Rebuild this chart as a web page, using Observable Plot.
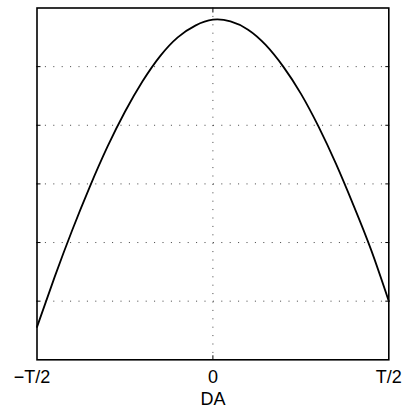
<!DOCTYPE html>
<html>
<head>
<meta charset="utf-8">
<script src="https://cdn.jsdelivr.net/npm/d3@7"></script>
<script src="https://cdn.jsdelivr.net/npm/@observablehq/plot@0.6"></script>
<style>
  html, body { margin: 0; padding: 0; background: #fff; }
</style>
</head>
<body>
<div id="chart"></div>
<script>
// Response over one period, phase in units of T
const phase = [-0.5, -0.45, -0.4, -0.35, -0.3, -0.25, -0.2, -0.15, -0.1, -0.05, 0,
               0.05, 0.1, 0.15, 0.2, 0.25, 0.3, 0.35, 0.4, 0.45, 0.5];
const level = [0.56, 1.41, 2.21, 2.95, 3.63, 4.23, 4.75, 5.18, 5.50, 5.70, 5.80,
               5.77, 5.63, 5.37, 5.00, 4.54, 3.98, 3.34, 2.63, 1.87, 1.00];

const xTicks = [-0.5, 0, 0.5];
const xTickLabels = ["\u2212T/2", "0", "T/2"];
const yTicks = [1, 2, 3, 4, 5];
const xLabel = "DA";

const points = phase.map((p, i) => ({phase: p, level: level[i]}));
const fmt = d => xTickLabels[xTicks.indexOf(d)];

const labelStyle = {anchor: "bottom", tickSize: 0, tickPadding: 10, tickFormat: fmt, fontSize: 18};

const chart = Plot.plot({
  width: 406,
  height: 414,
  marginLeft: 36.5,
  marginRight: 17.7,
  marginTop: 7.5,
  marginBottom: 54.7,
  style: {fontFamily: "'Liberation Sans', Arial, sans-serif", fontSize: "18px", background: "#fff", color: "#000"},
  x: {domain: [-0.5, 0.5]},
  y: {domain: [0, 6]},
  marks: [
    Plot.gridY(yTicks, {stroke: "#000", strokeOpacity: 0.75, strokeDasharray: "1,7.4"}),
    Plot.gridX([0], {stroke: "#000", strokeOpacity: 0.75, strokeDasharray: "1,7.4"}),
    Plot.axisY(yTicks, {anchor: "left", tickSize: -4, text: null, label: null}),
    Plot.axisY(yTicks, {anchor: "right", tickSize: -4, text: null, label: null}),
    Plot.axisX([0], {anchor: "top", tickSize: -4, text: null, label: null}),
    Plot.axisX([0], {anchor: "bottom", tickSize: -4, text: null, label: null}),
    // left end label sits slightly outside the frame corner
    Plot.axisX(xTicks.slice(0, 1), {...labelStyle, dx: -5, label: null}),
    Plot.axisX(xTicks.slice(1), {
      ...labelStyle,
      label: xLabel, labelAnchor: "center", labelArrow: "none", labelOffset: 45
    }),
    Plot.line(points, {x: "phase", y: "level", curve: "natural", stroke: "#000", strokeWidth: 1.8}),
    Plot.frame({stroke: "#000", strokeWidth: 1.6})
  ]
});
document.getElementById("chart").appendChild(chart);
</script>
</body>
</html>
